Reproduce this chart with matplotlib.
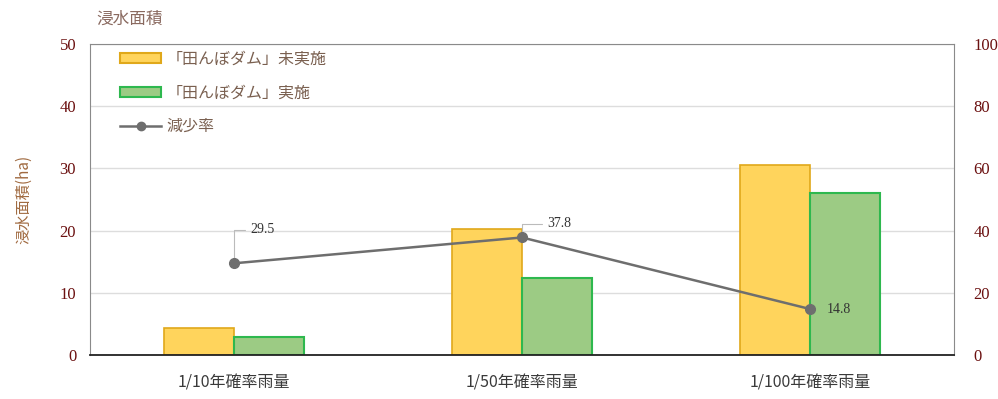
import matplotlib
matplotlib.use("Agg")
import matplotlib.pyplot as plt
import numpy as np
from matplotlib.patches import Patch
from matplotlib.lines import Line2D

plt.rcParams['font.family'] = ['Noto Sans CJK JP', 'DejaVu Sans']

categories = ["1/10年確率雨量", "1/50年確率雨量", "1/100年確率雨量"]
area_without = [4.4, 20.2, 30.6]   # 「田んぼダム」未実施 (ha)
area_with = [2.9, 12.4, 26.0]      # 「田んぼダム」実施 (ha)
reduction = [29.5, 37.8, 14.8]     # 減少率 (%)
left_ticks = [0, 10, 20, 30, 40, 50]
right_ticks = [0, 20, 40, 60, 80, 100]

yellow_fill, yellow_edge = "#FFD45C", "#E0A81A"
green_fill, green_edge = "#9CCB84", "#2EB84E"
line_col = "#6E6E6E"
tick_col = "#6B1010"
text_col = "#7A6050"

fig = plt.figure(figsize=(9.98, 3.99), dpi=100)
ax = fig.add_axes([0.0902, 0.110, 0.8658, 0.780])
x = np.arange(len(categories))
w = 0.243

ax.bar(x - w / 2, area_without, w, color=yellow_fill, edgecolor=yellow_edge, linewidth=1.2, zorder=2)
ax.bar(x + w / 2, area_with, w, color=green_fill, edgecolor=green_edge, linewidth=1.5, zorder=2)

ax.set_xlim(-0.5, 2.5)
ax.set_ylim(0, 50)
ax.set_yticks(left_ticks)
ax.set_xticks(x)
ax.set_xticklabels(categories, fontsize=11.5, color="#3A3A3A")
ax.grid(axis="y", color="#DDDDDD", linewidth=1, zorder=0)
ax.set_axisbelow(True)
for s in ["top", "left", "right"]:
    ax.spines[s].set_color("#8A8A8A")
ax.spines["bottom"].set_color("#222222")
ax.spines["bottom"].set_linewidth(1.3)
ax.tick_params(axis="y", length=0, pad=10)
ax.tick_params(axis="x", length=0, pad=14)
ax.tick_params(axis="y", labelsize=12, labelcolor=tick_col)
for lbl in ax.get_yticklabels():
    lbl.set_family("Liberation Serif")
ax.set_ylabel("浸水面積(ha)", fontsize=11, color="#A06A40", labelpad=20)

ax2 = ax.twinx()
ax2.set_ylim(0, 100)
ax2.set_yticks(right_ticks)
ax2.tick_params(axis="y", length=0, pad=14, labelsize=12, labelcolor=tick_col)
for lbl in ax2.get_yticklabels():
    lbl.set_family("Liberation Serif")
for s in ax2.spines.values():
    s.set_visible(False)
ax2.plot(x, reduction, color=line_col, linewidth=1.8, marker="o", markersize=7,
         markerfacecolor=line_col, markeredgecolor=line_col, zorder=5)

# value labels with leader lines
offsets = [(12, 24), (18, 10), (12, 0)]
for xi, v, (dx, dy) in zip(x, reduction, offsets):
    if dy > 0:
        ax2.annotate(f"{v:.1f}", xy=(xi, v), xytext=(dx, dy), textcoords="offset points",
                     fontsize=10, family="Liberation Serif", color="#333333",
                     va="center", ha="left",
                     arrowprops=dict(arrowstyle="-", color="#BBBBBB", linewidth=0.8,
                                     connectionstyle="angle,angleA=0,angleB=90,rad=0",
                                     shrinkA=2, shrinkB=4))
    else:
        ax2.annotate(f"{v:.1f}", xy=(xi, v), xytext=(dx, dy), textcoords="offset points",
                     fontsize=10, family="Liberation Serif", color="#333333",
                     va="center", ha="left")

handles = [
    Patch(facecolor=yellow_fill, edgecolor=yellow_edge, linewidth=1.5),
    Patch(facecolor=green_fill, edgecolor=green_edge, linewidth=1.5),
    Line2D([0], [0], color=line_col, linewidth=1.8, marker="o", markersize=6),
]
labels = ["「田んぼダム」未実施", "「田んぼダム」実施", "減少率"]
leg = ax.legend(handles, labels, loc="upper left", bbox_to_anchor=(0.018, 1.025), frameon=False,
                fontsize=11.5, labelspacing=1.05, handlelength=2.6, handleheight=0.6,
                handletextpad=0.3, labelcolor=text_col)

fig.text(0.097, 0.952, "浸水面積", fontsize=12, color="#8A6A60", va="center", ha="left")

fig.savefig("out.png", dpi=100)
